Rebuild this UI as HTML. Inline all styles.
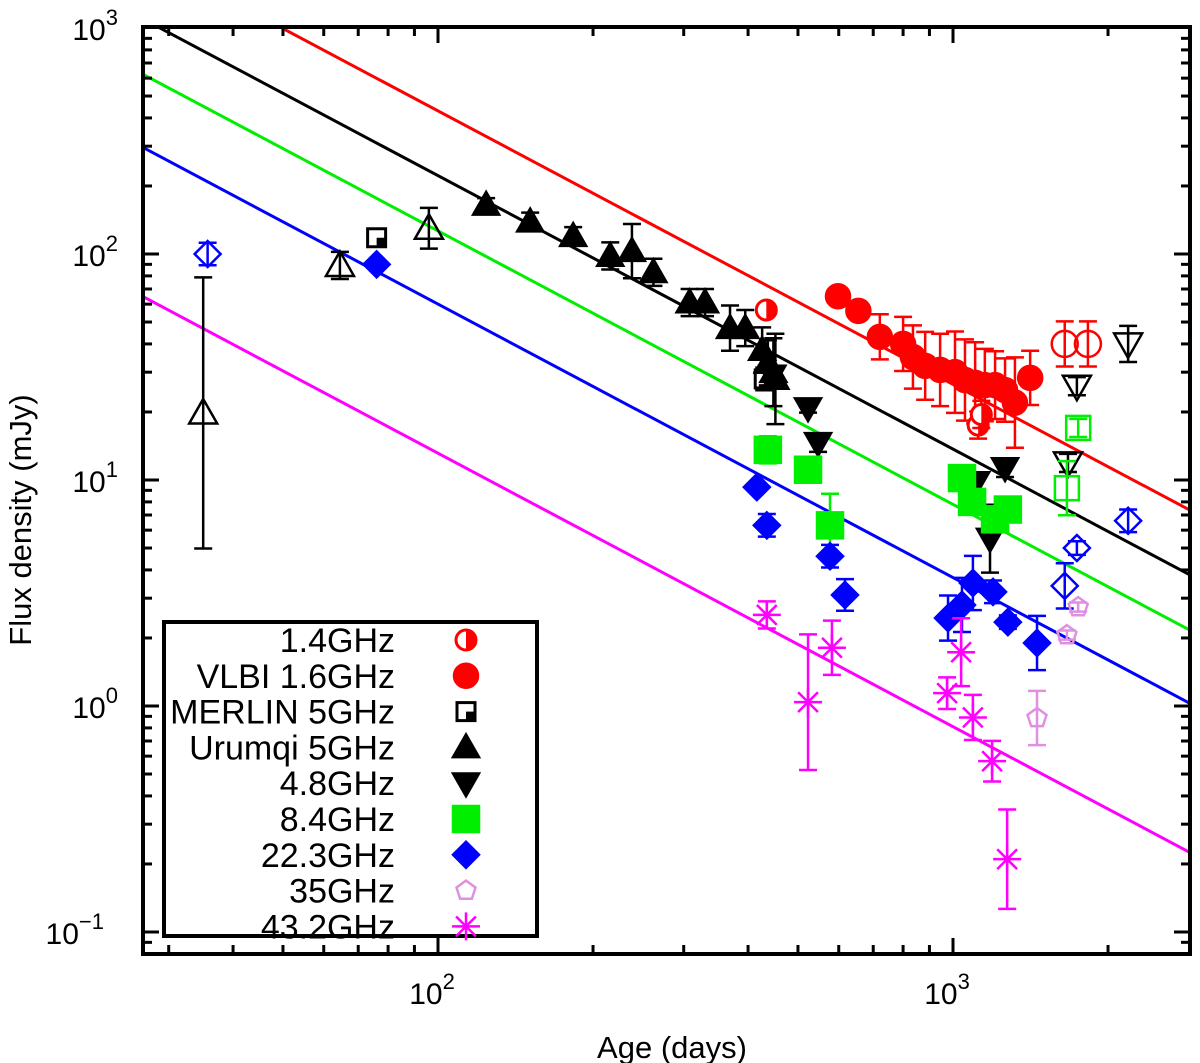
<!DOCTYPE html>
<html><head><meta charset="utf-8"><style>
html,body{margin:0;padding:0;background:#fff;}
svg{display:block;font-family:"Liberation Sans",sans-serif;}
</style></head><body>
<svg id="chart" width="1200" height="1063" viewBox="0 0 1200 1063" xmlns="http://www.w3.org/2000/svg">
<rect x="0" y="0" width="1200" height="1063" fill="#fff"/>
<g id="marks"></g>
<g id="axes"></g>
</svg>
<script>
// ---- data (days, mJy, error in dex) ----
const s14x=[434,1119,1135,1648,1828];
const s14y=[56.5,17.5,19.5,40,40];
const s14e=[0,0.06,0.06,0.1,0.1];
const s14open=[0,0,0,1,1];
const vlbiX=[598,655,721,800,836,883,944,1009,1055,1104,1153,1207,1262,1319,1412];
const vlbiY=[65,56,43,40,35,32,30.7,30,27.7,26.9,26.3,26.3,25,22,28.3];
const vlbiE=[0,0,0.1,0.12,0.14,0.15,0.16,0.18,0.18,0.18,0.16,0.15,0.14,0.2,0.12];
const merX=[76,430];
const merY=[118,28];
const merE=[0.04,0.05];
const uruX=[124,151,183,216,238,262,308,330,369,395,426,437,448,452,35,64.5,96];
const uruY=[165,139,120,98,103,83,61,61,47,47,37.6,33,30,28,19.8,89,130];
const uruE=[0.03,0.04,0.04,0.06,0.12,0.06,0.06,0.06,0.1,0.08,0.1,0.1,0.15,0.2,0.6,0.06,0.09];
const uruOpen=[0,0,0,0,0,0,0,0,0,0,0,0,0,0,1,1,1];
const c48X=[446,523,547,1109,1180,1262,1672,1740,2188];
const c48Y=[29,20.8,14.6,9.8,5.5,11.3,11.9,26,40];
const c48E=[0,0.02,0.04,0,0.15,0.04,0.04,0.04,0.08];
const c48Open=[0,0,0,0,0,0,1,1,1];
const c84X=[437,523,577,1041,1089,1207,1278,1664,1750];
const c84Y=[13.6,11.1,6.3,10.2,8.0,6.7,7.4,9.2,17];
const c84E=[0.06,0.02,0.14,0,0,0,0,0.12,0.04];
const c84Open=[0,0,0,0,0,0,0,1,1];
const c22X=[76,416,435,577,617,978,1041,1093,1196,1278,1456,35.7,1648,1740,2188];
const c22Y=[90,9.3,6.3,4.6,3.1,2.45,2.8,3.5,3.2,2.35,1.9,100,3.4,5.0,6.6];
const c22E=[0,0,0.05,0.05,0.07,0.1,0.12,0.12,0.05,0.03,0.12,0.05,0.1,0.03,0.05];
const c22Open=[0,0,0,0,0,0,0,0,0,0,0,1,1,1,1];
const c35X=[1664,1750,1456];
const c35Y=[2.06,2.74,0.885];
const c35E=[0.02,0.02,0.12];
const c43X=[435,523,582,974,1037,1093,1191,1274];
const c43Y=[2.53,1.04,1.81,1.14,1.73,0.89,0.57,0.21];
const c43E=[0.06,0.3,0.12,0.07,0.15,0.1,0.09,0.22];
// power-law fits: S = A*(t/1000)^idx
const fitNames=['red','black','green','blue','magenta'];
const fitA=[26.5,13.7,7.8,3.7,0.81];
const fitIdx=[-1.21,-1.21,-1.21,-1.21,-1.21];
const fitColors=['#ff0000','#000000','#00ee00','#0000ff','#ff00ff'];
const yTickLabels=['-1','0','1','2','3'];
const xTickLabels=['2','3'];

// ---- axes ----
const L=143,R=1190,T=27,B=954;
const X0=438,XD=515;
const Y0=254,YD=226;
const xs=v=>X0+(Math.log10(v)-2)*XD;
const ys=v=>Y0-(Math.log10(v)-2)*YD;
const NS='http://www.w3.org/2000/svg';
const marks=document.getElementById('marks');
const axes=document.getElementById('axes');
function el(tag,attrs,parent){const e=document.createElementNS(NS,tag);for(const k in attrs)e.setAttribute(k,attrs[k]);(parent||marks).appendChild(e);return e;}

const defs=el('defs',{});
const cp=el('clipPath',{id:'clip'},defs);
el('rect',{x:L,y:T,width:R-L,height:B-T},cp);
marks.setAttribute('clip-path','url(#clip)');

fitA.forEach((a,i)=>{
  const f=t=>a*Math.pow(t/1000,fitIdx[i]);
  const t1=Math.pow(10,2+(L-X0)/XD),t2=Math.pow(10,2+(R-X0)/XD);
  const ln=el('line',{x1:L,y1:ys(f(t1)),x2:R,y2:ys(f(t2)),stroke:fitColors[i],'stroke-width':3});
  
  
});

function errbar(cx,v,e,color,w){
  if(!e)return;
  const y1=ys(v*Math.pow(10,e)),y2=ys(v/Math.pow(10,e));
  const g=el('g',{stroke:color,'stroke-width':w||2.5});
  
  
  el('line',{x1:cx,y1:y1,x2:cx,y2:y2},g);
  el('line',{x1:cx-9,y1:y1,x2:cx+9,y2:y1},g);
  el('line',{x1:cx-9,y1:y2,x2:cx+9,y2:y2},g);
}
function marker(type,cx,cy,color,open,parent){
  const p=parent||marks;
  const sw=2.5;
  const fill=open?'none':color;
  let m;
  if(type==='circle'){m=el('circle',{cx,cy,r:open?13:12,fill,stroke:color,'stroke-width':sw},p);}
  else if(type==='half'){m=el('g',{},p);el('circle',{cx,cy,r:10,fill:'#fff',stroke:color,'stroke-width':3},m);el('path',{d:`M${cx} ${cy-10}A10 10 0 0 1 ${cx} ${cy+10}Z`,fill:color},m);}
  else if(type==='merlin'){m=el('g',{},p);el('rect',{x:cx-9,y:cy-9,width:18,height:18,fill:'#fff',stroke:color,'stroke-width':3},m);el('rect',{x:cx,y:cy,width:9,height:9,fill:color},m);}
  else if(type==='up'){const s=open?14:13;m=el('polygon',{points:`${cx},${cy-s} ${cx+s},${cy+s*0.75} ${cx-s},${cy+s*0.75}`,fill,stroke:color,'stroke-width':sw},p);}
  else if(type==='down'){const s=open?14:13;m=el('polygon',{points:`${cx},${cy+s} ${cx+s},${cy-s*0.75} ${cx-s},${cy-s*0.75}`,fill,stroke:color,'stroke-width':sw},p);}
  else if(type==='square'){const s=open?12:13;m=el('rect',{x:cx-s,y:cy-s,width:2*s,height:2*s,fill,stroke:color,'stroke-width':sw},p);}
  else if(type==='diamond'){const s=13;m=el('polygon',{points:`${cx},${cy-s} ${cx+s},${cy} ${cx},${cy+s} ${cx-s},${cy}`,fill,stroke:color,'stroke-width':sw},p);}
  else if(type==='pent'){const r=10;let pts=[];for(let k=0;k<5;k++){const a=-Math.PI/2+k*2*Math.PI/5;pts.push((cx+r*Math.cos(a)).toFixed(1)+','+(cy+r*Math.sin(a)).toFixed(1));}m=el('polygon',{points:pts.join(' '),fill:'none',stroke:color,'stroke-width':2.5},p);}
  else if(type==='star'){m=el('g',{stroke:color,'stroke-width':2.5},p);const r=14;for(let k=0;k<4;k++){const a=k*Math.PI/4+Math.PI/2;el('line',{x1:cx-r*Math.cos(a),y1:cy-r*Math.sin(a),x2:cx+r*Math.cos(a),y2:cy+r*Math.sin(a)},m);}}
  return m;
}
function series(name,type,color,X,Y,E,O){
  X.forEach((t,i)=>{
    const cx=xs(t),cy=ys(Y[i]);
    errbar(cx,Y[i],E[i],color);
    const m=marker(type,cx,cy,color,O?O[i]:0);
    
    
  });
}
series('vlbi-1.6ghz','circle','#ff0000',vlbiX,vlbiY,vlbiE,null);
const halfIdx=s14x.map((t,i)=>i).filter(i=>!s14open[i]);
series('1.4ghz','half','#ff0000',halfIdx.map(i=>s14x[i]),halfIdx.map(i=>s14y[i]),halfIdx.map(i=>s14e[i]),null);
const openIdx=s14x.map((t,i)=>i).filter(i=>s14open[i]);
series('1.4ghz-open','circle','#ff0000',openIdx.map(i=>s14x[i]),openIdx.map(i=>s14y[i]),openIdx.map(i=>s14e[i]),openIdx.map(()=>1));
series('merlin-5ghz','merlin','#000000',merX,merY,merE,null);
series('urumqi-5ghz','up','#000000',uruX,uruY,uruE,uruOpen);
series('4.8ghz','down','#000000',c48X,c48Y,c48E,c48Open);
series('8.4ghz','square','#00ee00',c84X,c84Y,c84E,c84Open);
series('22.3ghz','diamond','#0000ff',c22X,c22Y,c22E,c22Open);
series('35ghz','pent','#e090e0',c35X,c35Y,c35E,null);
series('43.2ghz','star','#ff00ff',c43X,c43Y,c43E,null);

// ---- frame and ticks ----
const frame=el('rect',{x:L,y:T,width:R-L,height:B-T,fill:'none',stroke:'#000','stroke-width':4},axes);


const tg=el('g',{stroke:'#000','stroke-width':3},axes);
for(let d=-2;d<=3;d++){for(let k=1;k<10;k++){const v=k*Math.pow(10,d);const y=ys(v);if(y<T+2||y>B-2)continue;const len=k===1?16:9;
  el('line',{x1:L,y1:y,x2:L+len,y2:y},tg);el('line',{x1:R,y1:y,x2:R-len,y2:y},tg);}}
for(let d=1;d<=3;d++){for(let k=1;k<10;k++){const v=k*Math.pow(10,d);const x=xs(v);if(x<L+2||x>R-2)continue;const len=k===1?16:9;
  el('line',{x1:x,y1:B,x2:x,y2:B-len},tg);el('line',{x1:x,y1:T,x2:x,y2:T+len},tg);}}
yTickLabels.forEach(p=>{
  const y=ys(Math.pow(10,+p));
  const t=el('text',{x:p==='-1'?104:118,y:y+12,'text-anchor':'end','font-size':30},axes);
  
  
  t.appendChild(document.createTextNode('10'));
  const s=el('tspan',{dy:-15,'font-size':22},t);s.textContent=p==='-1'?'\u22121':p;
});
xTickLabels.forEach(p=>{
  const x=xs(Math.pow(10,+p));
  const t=el('text',{x:x-6,y:B+50,'text-anchor':'middle','font-size':30},axes);
  
  
  t.appendChild(document.createTextNode('10'));
  const s=el('tspan',{dy:-15,'font-size':22},t);s.textContent=p;
});
const xt=el('text',{x:672,y:1058,'text-anchor':'middle','font-size':31},axes);xt.textContent='Age (days)';


const yt=el('text',{x:0,y:0,'text-anchor':'middle','font-size':31,transform:'translate(31,520) rotate(-90)'},axes);yt.textContent='Flux density (mJy)';



// ---- legend ----
const lg=el('g',{},axes);


el('rect',{x:164,y:622,width:373,height:314,fill:'#fff',stroke:'#000','stroke-width':4},lg);
const legLabels=['1.4GHz','VLBI 1.6GHz','MERLIN 5GHz','Urumqi 5GHz','4.8GHz','8.4GHz','22.3GHz','35GHz','43.2GHz'];
const legTypes=['half','circle','merlin','up','down','square','diamond','pent','star'];
const legColors=['#ff0000','#ff0000','#000000','#000000','#000000','#00ee00','#0000ff','#e090e0','#ff00ff'];
legLabels.forEach((lab,i)=>{
  const cy=640+i*35.8;
  const g=el('g',{},lg);
  
  
  const t=el('text',{x:395,y:cy+12,'text-anchor':'end','font-size':34},g);t.textContent=lab;
  marker(legTypes[i],466,cy,legColors[i],0,g);
});
</script>
</body></html>
